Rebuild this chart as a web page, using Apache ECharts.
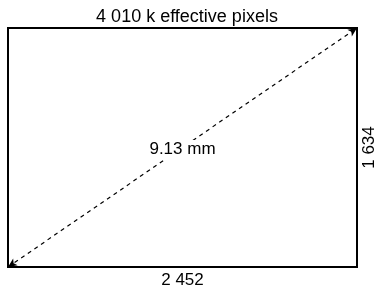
<!DOCTYPE html>
<html>
<head>
<meta charset="utf-8">
<script src="https://cdn.jsdelivr.net/npm/echarts@6/dist/echarts.min.js"></script>
<style>
  html, body { margin: 0; padding: 0; background: #fff; }
  #chart { width: 374px; height: 287px; }
</style>
</head>
<body>
<div id="chart"></div>
<script>
// sensor data
var sensorWidth = 2452;      // pixels, horizontal
var sensorHeight = 1634;     // pixels, vertical
var diagonalMm = 9.13;       // mm
var effectivePixelsK = 4010; // k

// "2452" -> "2 452"
function fmt(n) {
  return String(n).replace(/\B(?=(\d{3})+(?!\d))/g, ' ');
}

var chart = echarts.init(document.getElementById('chart'));

var option = {
  animation: false,
  textStyle: { fontFamily: 'Liberation Sans', color: '#000' },
  title: {
    text: fmt(effectivePixelsK) + ' k effective pixels',
    left: 'center',
    top: 3,
    textStyle: { fontSize: 18, fontWeight: 'normal', color: '#000', fontFamily: 'Liberation Sans' }
  },
  grid: {
    left: 8, right: 17, top: 28, bottom: 20,
    outerBoundsMode: 'none',
    containLabel: false,
    show: true,
    borderColor: '#000',
    borderWidth: 2,
    backgroundColor: '#fff'
  },
  xAxis: {
    type: 'value', min: 0, max: sensorWidth,
    name: fmt(sensorWidth),
    nameLocation: 'middle',
    nameGap: 5,
    nameTextStyle: { fontSize: 17, color: '#000', verticalAlign: 'top' },
    axisLine: { show: false }, axisTick: { show: false },
    axisLabel: { show: false }, splitLine: { show: false }
  },
  yAxis: {
    type: 'value', min: 0, max: sensorHeight,
    position: 'right',
    name: fmt(sensorHeight),
    nameLocation: 'middle',
    nameRotate: 90,
    nameGap: 4,
    nameTextStyle: { fontSize: 17, color: '#000', verticalAlign: 'top' },
    axisLine: { show: false }, axisTick: { show: false },
    axisLabel: { show: false }, splitLine: { show: false }
  },
  series: [
    {
      type: 'line',
      data: [],
      z: 2,
      markLine: {
        silent: true,
        symbol: ['arrow', 'arrow'],
        symbolSize: [6, 9],
        lineStyle: { color: '#000', width: 1.2, type: [4, 4] },
        label: { show: false },
        data: [[{ coord: [0, 0] }, { coord: [sensorWidth, sensorHeight] }]]
      }
    },
    {
      type: 'scatter',
      z: 10,
      zlevel: 1,
      silent: true,
      symbolSize: 0,
      itemStyle: { opacity: 1 },
      data: [[sensorWidth / 2, sensorHeight / 2]],
      label: {
        show: true,
        position: 'inside',
        formatter: diagonalMm.toFixed(2) + ' mm',
        fontSize: 17,
        color: '#000',
        textBorderWidth: 0,
        textBorderColor: 'transparent',
        backgroundColor: '#fff',
        padding: [1, 2],
        offset: [0, 2]
      }
    }
  ]
};

chart.setOption(option);
</script>
</body>
</html>
